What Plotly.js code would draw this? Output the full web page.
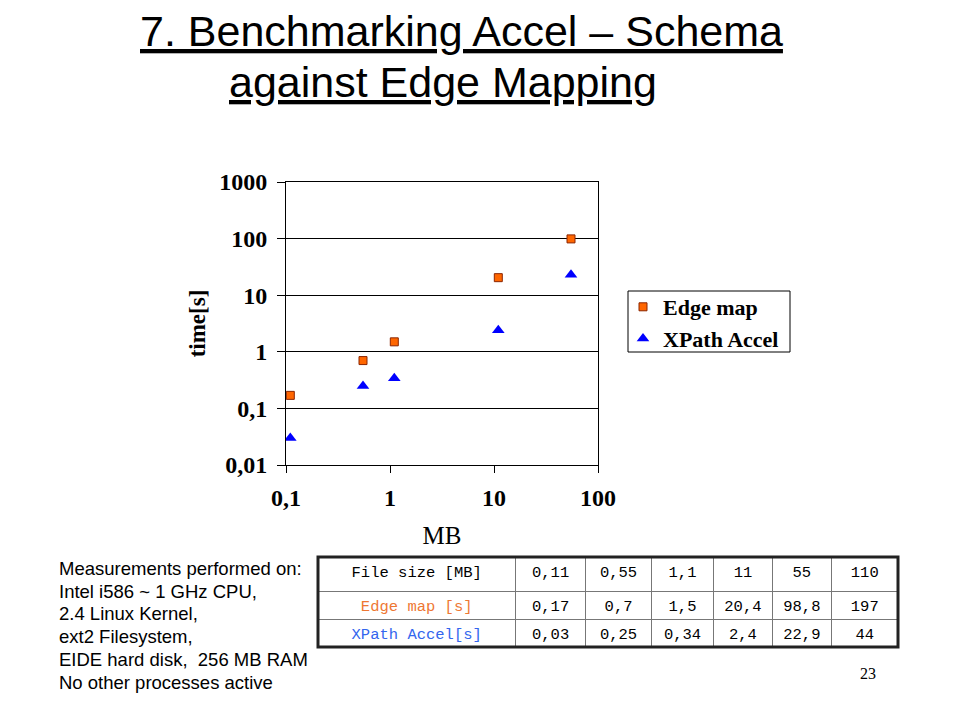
<!DOCTYPE html>
<html><head><meta charset="utf-8">
<script src="https://cdn.plot.ly/plotly-3.0.1.min.js"></script>
<style>html,body{margin:0;padding:0;background:#fff;}#chart{width:960px;height:720px;}</style>
</head><body><div id="chart"></div>
<script>
// Data
const fileSizeMB = [0.11, 0.55, 1.1, 11, 55];
const edgeMapS = [0.17, 0.7, 1.5, 20.4, 98.8];
const xpathAccelS = [0.03, 0.25, 0.34, 2.4, 22.9];
const xTickVals = [0.1, 1, 10, 100];
const xTickText = ['0,1', '1', '10', '100'];
const yTickVals = [0.01, 0.1, 1, 10, 100, 1000];
const yTickText = ['0,01', '0,1', '1', '10', '100', '1000'];
const tableHeader = ['File size [MB]', '0,11', '0,55', '1,1', '11', '55', '110'];
const tableEdgeRow = ['Edge map [s]', '0,17', '0,7', '1,5', '20,4', '98,8', '197'];
const tableXPathRow = ['XPath Accel[s]', '0,03', '0,25', '0,34', '2,4', '22,9', '44'];
const notes = ['Measurements performed on:', 'Intel i586 ~ 1 GHz CPU,', '2.4 Linux Kernel,', 'ext2 Filesystem,', 'EIDE hard disk,  256 MB RAM', 'No other processes active'];

const W = 960, H = 720;
const px = v => v / W, py = v => 1 - v / H;
const serif = '"Liberation Serif", "Times New Roman", serif';
const sans = '"Liberation Sans", Arial, sans-serif';
const mono = '"Liberation Mono", "Courier New", monospace';
const orange = '#FF6600', blue = '#0000FF';

const traces = [
  {type: 'scatter', mode: 'markers', name: 'Edge map', x: fileSizeMB, y: edgeMapS,
   marker: {symbol: 'square', size: 8, color: orange, line: {color: '#8B2500', width: 1}}},
  {type: 'scatter', mode: 'markers', name: 'XPath Accel', x: fileSizeMB, y: xpathAccelS,
   marker: {symbol: 'triangle-up', size: 11, color: blue, line: {width: 0}}},
  {type: 'table', domain: {x: [px(318), px(898)], y: [py(647), py(557)]},
   columnwidth: [196, 70, 65, 62, 58, 59, 66],
   header: {values: tableHeader, height: 34, align: 'center',
     line: {color: '#777', width: 1}, fill: {color: '#fff'},
     font: {family: mono, size: 15.5, color: '#000'}},
   cells: {values: tableHeader.map((_, i) => [tableEdgeRow[i], tableXPathRow[i]]), height: 28, align: 'center',
     line: {color: '#777', width: 1}, fill: {color: '#fff'},
     font: {family: mono, size: 15.5,
       color: [['#EE7733', '#3366EE'], '#000', '#000', '#000', '#000', '#000', '#000']}}}
];

const annotations = [
  {text: '<span style="text-decoration:underline">7. Benchmarking Accel – Schema</span>', x: px(461), y: py(5), xref: 'paper', yref: 'paper',
   xanchor: 'center', yanchor: 'top', showarrow: false, font: {family: sans, size: 43, color: '#000'}},
  {text: '<span style="text-decoration:underline">against Edge Mapping</span>', x: px(443), y: py(56), xref: 'paper', yref: 'paper',
   xanchor: 'center', yanchor: 'top', showarrow: false, font: {family: sans, size: 43, color: '#000'}},
  {text: '23', x: px(868), y: py(673), xref: 'paper', yref: 'paper', xanchor: 'center', yanchor: 'middle', showarrow: false,
   font: {family: serif, size: 16, color: '#000'}}
];
const noteY = [568, 591, 613, 636, 659, 682];
notes.forEach((t, i) => annotations.push({text: t, x: px(57), y: py(noteY[i]), xref: 'paper', yref: 'paper',
  xanchor: 'left', yanchor: 'middle', align: 'left', showarrow: false, font: {family: sans, size: 18.5, color: '#000'}}));

const layout = {
  width: W, height: H, margin: {l: 0, r: 0, t: 0, b: 0},
  paper_bgcolor: '#fff', plot_bgcolor: '#fff', showlegend: true,
  xaxis: {type: 'log', range: [-1, 2], domain: [px(286), px(598)], tickvals: xTickVals, ticktext: xTickText,
    showgrid: false, zeroline: false, showline: true, linecolor: '#000', linewidth: 1, mirror: true,
    ticks: 'outside', ticklen: 7, tickcolor: '#000', ticklabelstandoff: 4,
    tickfont: {family: serif, size: 24, color: '#000', weight: 'bold'},
    title: {text: 'MB', standoff: 16, font: {family: serif, size: 25, color: '#000'}}},
  yaxis: {type: 'log', range: [-2, 3], domain: [py(465), py(182)], tickvals: yTickVals, ticktext: yTickText,
    showgrid: true, gridcolor: '#000', gridwidth: 1, zeroline: false, showline: true, linecolor: '#000', linewidth: 1, mirror: true,
    ticks: 'outside', ticklen: 8, tickcolor: '#000', ticklabelstandoff: 5,
    tickfont: {family: serif, size: 24, color: '#000', weight: 'bold'},
    title: {text: 'time[s]', standoff: 7, font: {family: serif, size: 23, color: '#000', weight: 'bold'}}},
  legend: {x: px(623), y: py(286), xanchor: 'left', yanchor: 'top', bgcolor: 'rgba(0,0,0,0)', borderwidth: 0,
    font: {family: serif, size: 22, color: '#000', weight: 'bold'}, tracegroupgap: 0, itemwidth: 30},
  annotations: annotations,
  shapes: [
    {type: 'rect', xref: 'paper', yref: 'paper', x0: px(318), x1: px(898), y0: py(647), y1: py(557),
     line: {color: '#222', width: 3}, layer: 'above'},
    {type: 'rect', xref: 'paper', yref: 'paper', x0: px(628), x1: px(790), y0: py(352), y1: py(291),
     line: {color: '#000', width: 1}, fillcolor: '#fff', layer: 'above'}
  ]
};

Plotly.newPlot('chart', traces, layout, {displayModeBar: false, staticPlot: true});
</script></body></html>
